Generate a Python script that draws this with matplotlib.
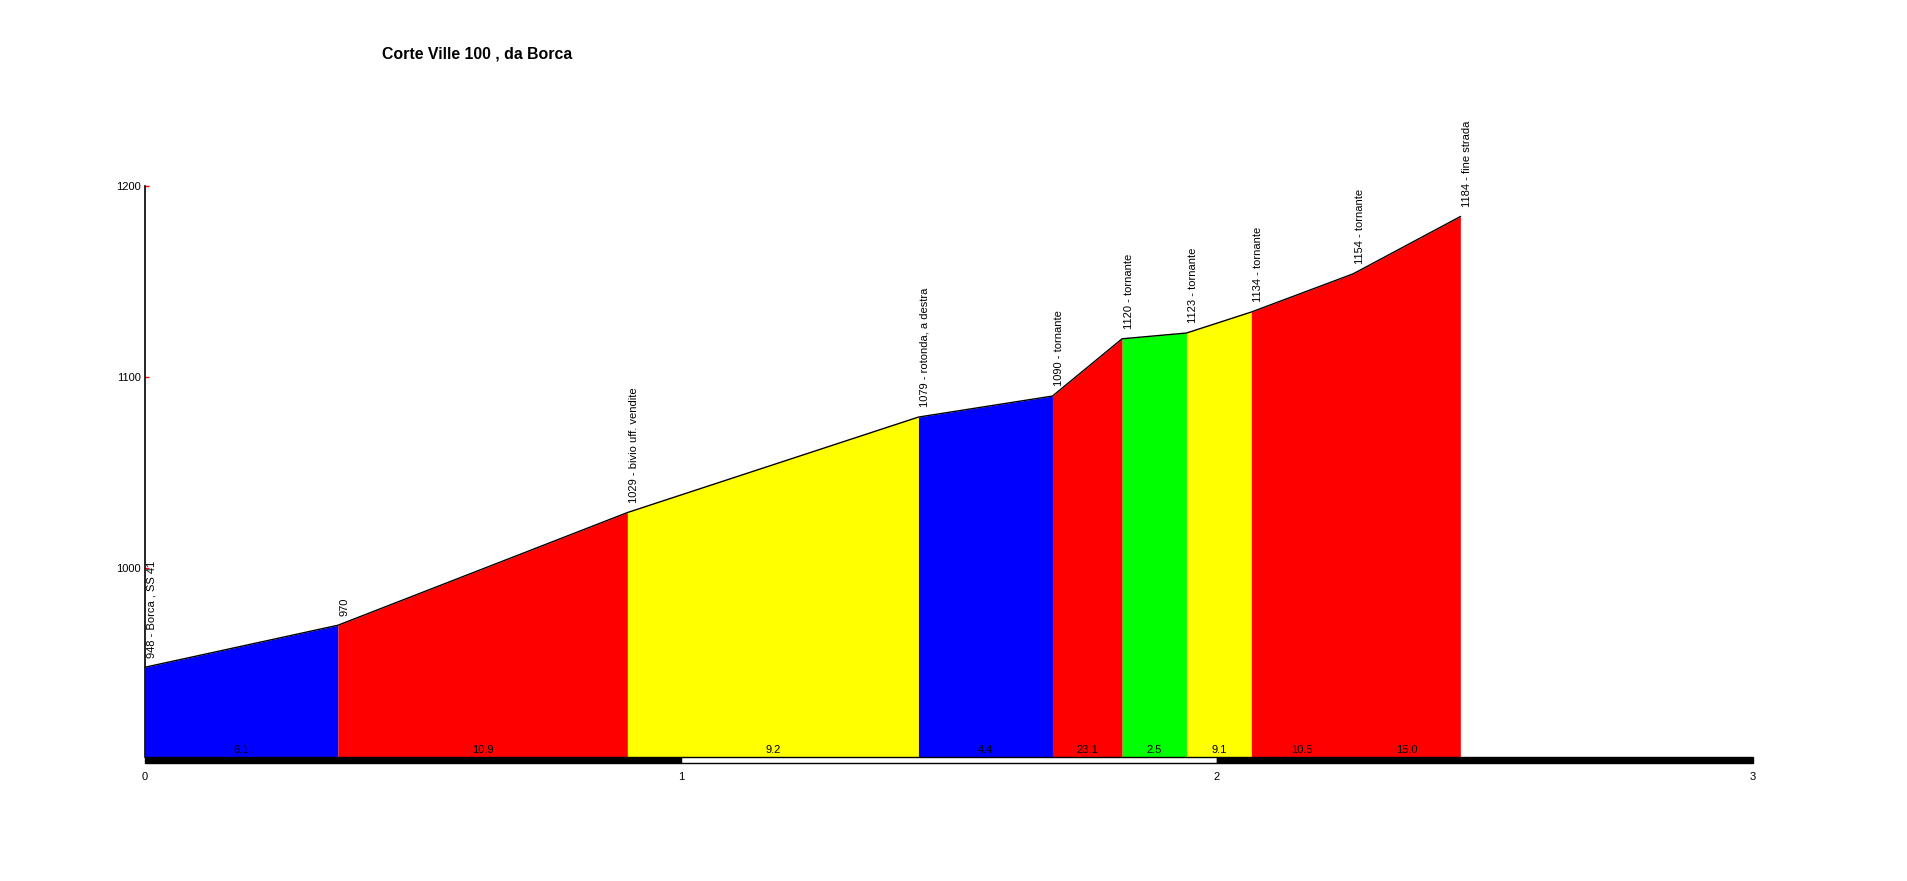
import matplotlib
matplotlib.use('Agg')
import matplotlib.pyplot as plt

plt.rcParams['font.family'] = ['Liberation Sans', 'DejaVu Sans']

# profile points: distance (km), elevation (m), label
km = [0.0, 0.36, 0.90, 1.443, 1.693, 1.823, 1.943, 2.064, 2.254, 2.454]
elev = [948, 970, 1029, 1079, 1090, 1120, 1123, 1134, 1154, 1184]
names = ['948 - Borca , SS 41', '970', '1029 - bivio uff. vendite',
         '1079 - rotonda, a destra', '1090 - tornante', '1120 - tornante',
         '1123 - tornante', '1134 - tornante', '1154 - tornante',
         '1184 - fine strada']

# per-segment gradient (%) and colour
grades = ['6.1', '10.9', '9.2', '4.4', '23.1', '2.5', '9.1', '10.5', '15.0']
seg_colors = ['#0000ff', '#ff0000', '#ffff00', '#0000ff', '#ff0000',
              '#00ff00', '#ffff00', '#ff0000', '#ff0000']

km_ticks = [0, 1, 2, 3]
y_ticks = [1000, 1100, 1200]
ymin, ymax = 901, 1200


def main():
    fig = plt.figure(figsize=(19.08, 8.81), dpi=100)
    ax = fig.add_axes([145 / 1908, 124 / 881, 1608 / 1908, 571 / 881])

    # fill runs of same-coloured segments as one patch (no seams)
    i = 0
    n = len(seg_colors)
    while i < n:
        j = i
        while j + 1 < n and seg_colors[j + 1] == seg_colors[i]:
            j += 1
        ax.fill_between(km[i:j + 2], elev[i:j + 2], ymin,
                        color=seg_colors[i], lw=0)
        i = j + 1

    for i in range(n):
        ax.text((km[i] + km[i + 1]) / 2, 0.013, grades[i],
                transform=ax.get_xaxis_transform(), ha='center', va='center',
                fontsize=8)
    ax.plot(km, elev, color='black', lw=1)

    for x, y, s in zip(km, elev, names):
        ax.annotate(s, (x, y), xytext=(4.7, 7), textcoords='offset points',
                    rotation=90, ha='center', va='bottom', fontsize=8,
                    annotation_clip=False)

    # km scale bar: black / white / black
    tr = ax.get_xaxis_transform()
    h = 6 / 571
    for k in range(3):
        fc = 'black' if k % 2 == 0 else 'white'
        ax.add_patch(plt.Rectangle((k, -h), 1, h, transform=tr, facecolor=fc,
                                   edgecolor='black', lw=1, clip_on=False))

    ax.set_xlim(0, 3)
    ax.set_ylim(ymin, ymax)
    for sp in ['top', 'right', 'bottom']:
        ax.spines[sp].set_visible(False)
    ax.spines['left'].set_linewidth(1.2)

    ax.set_xticks(km_ticks)
    ax.set_xticklabels([str(k) for k in km_ticks])
    ax.tick_params(axis='x', length=0, pad=11, labelsize=8)
    ax.set_yticks(y_ticks)
    ax.tick_params(axis='y', direction='in', length=3, width=1, color='red',
                   pad=3, labelsize=8)

    fig.text(477 / 1908, 1 - 54 / 881, 'Corte Ville 100 , da Borca',
             ha='center', va='center', fontsize=11.4, fontweight='bold')

    fig.savefig('out.png', dpi=100)


if __name__ == '__main__':
    main()
